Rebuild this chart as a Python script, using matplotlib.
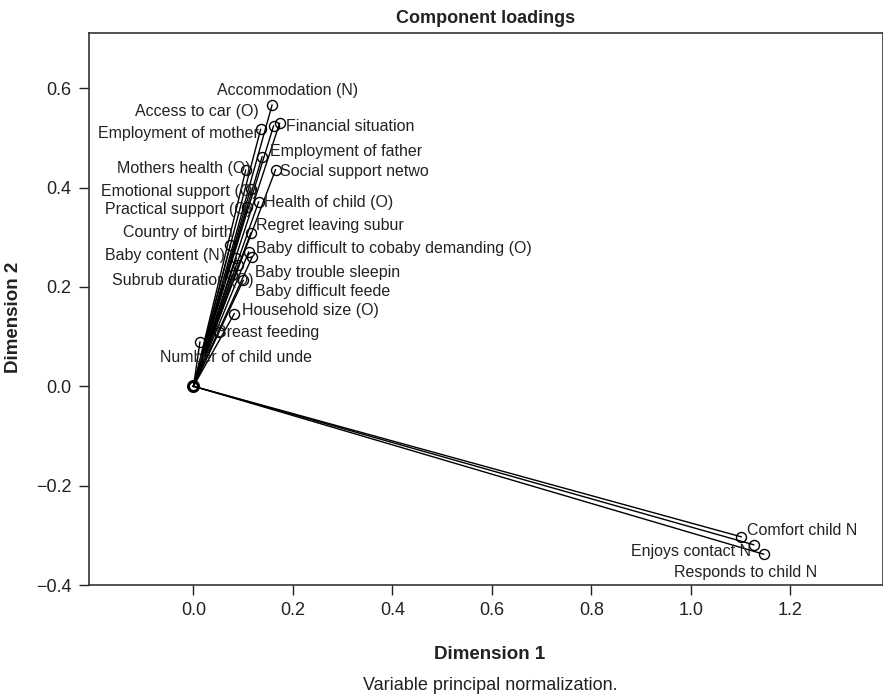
import matplotlib
matplotlib.use("Agg")
import matplotlib.pyplot as plt

plt.rcParams['font.family'] = ['Liberation Sans', 'DejaVu Sans']

# ---- data ----
variables = [
    "Accommodation (N)", "Access to car (O)", "Employment of mother",
    "Financial situation", "Employment of father", "Mothers health (O)",
    "Social support netwo", "Emotional support (O)", "Health of child (O)",
    "Practical support (O)", "Regret leaving subur", "Country of birth",
    "Baby difficult to co", "baby demanding (O)", "Baby content (N)",
    "Baby trouble sleepin", "Subrub duration (O)", "Baby difficult feede",
    "Household size (O)", "Breast feeding", "Number of child unde",
    "Comfort child N", "Enjoys contact N", "Responds to child N",
]
dim1 = [0.158, 0.161, 0.135, 0.173, 0.138, 0.105, 0.165, 0.115, 0.131,
        0.108, 0.115, 0.074, 0.111, 0.118, 0.086, 0.090, 0.100, 0.078,
        0.082, 0.051, 0.013, 1.101, 1.126, 1.146]
dim2 = [0.566, 0.524, 0.517, 0.529, 0.462, 0.435, 0.436, 0.398, 0.371,
        0.361, 0.308, 0.284, 0.270, 0.260, 0.258, 0.244, 0.213, 0.224,
        0.146, 0.109, 0.089, -0.303, -0.319, -0.338]

xticks = [0.0, 0.2, 0.4, 0.6, 0.8, 1.0, 1.2]
yticks = [-0.4, -0.2, 0.0, 0.2, 0.4, 0.6]

# ---- label placement (pixel offsets from each point, style only) ----
label_dx = [15, -15, -2, 6, 8, 5, 4, 7, 5, 5, 5, 2, 7, None, -11, 17, 10, 23, 8, -3, 36, 6, -3, -18]
label_dy = [15, 14, -4, -3, 5, 2, -2, -3, -1, -3, 8, 13, 4, None, 3, -7, 0, -17, 3, 0, -15, 6, -7, -18]
label_ha = ['center', 'right', 'right', 'left', 'left', 'right', 'left', 'right', 'left',
            'right', 'left', 'right', 'left', 'left', 'right', 'left', 'right', 'left',
            'left', 'left', 'center', 'left', 'right', 'center']

TXT = '#222222'
fig = plt.figure(figsize=(8.83, 6.97), dpi=100)
ax = fig.add_axes([88.5 / 883, 1 - 585 / 697, (883 - 88.5) / 883, (585 - 33) / 697])

for x, y in zip(dim1, dim2):
    ax.plot([0, x], [0, y], color='black', lw=1.0, zorder=2)
    ax.plot([x], [y], marker='o', ms=7.2, mfc='none', mec='black', mew=1.0,
            ls='none', zorder=3)
ax.plot([0], [0], marker='o', ms=7.2, mfc='none', mec='black', mew=2.2,
        ls='none', zorder=3)

texts = {}
for i, name in enumerate(variables):
    if label_dx[i] is None:
        continue
    t = ax.annotate(name, xy=(dim1[i], dim2[i]), xytext=(label_dx[i], label_dy[i]),
                    textcoords='offset pixels', ha=label_ha[i], va='center',
                    fontsize=11.5, color=TXT, zorder=4)
    texts[name] = t
# label that runs on directly after its neighbour in the reference
ax.annotate("baby demanding (O)", xy=(1, 0.5), xycoords=texts["Baby difficult to co"],
            ha='left', va='center', fontsize=11.5, color=TXT, zorder=4)

ax.set_xlim(-0.211, 1.386)
ax.set_ylim(-0.4, 0.711)
ax.set_xticks(xticks)
ax.set_xticklabels([f"{v:.1f}" for v in xticks])
ax.set_yticks(yticks)
ax.set_yticklabels([f"{v:.1f}".replace('-', '\u2212') for v in yticks])
ax.tick_params(direction='out', length=7.5, width=1.0, labelsize=13,
               colors='#222222', pad=5)
for s in ax.spines.values():
    s.set_color('#333333')
    s.set_linewidth(1.2)

ax.set_title("Component loadings", fontsize=13, fontweight='bold', color=TXT, pad=7)
ax.set_xlabel("Dimension 1", fontsize=13.5, fontweight='bold', color=TXT)
ax.set_ylabel("Dimension 2", fontsize=13.5, fontweight='bold', color=TXT)
ax.xaxis.set_label_coords(0.505, -0.1105)
ax.yaxis.set_label_coords(-0.0837, 0.484)

fig.text(490 / 883, 1 - 685 / 697, "Variable principal normalization.",
         ha='center', va='center', fontsize=13, color=TXT)

fig.savefig("out.png", dpi=100)
